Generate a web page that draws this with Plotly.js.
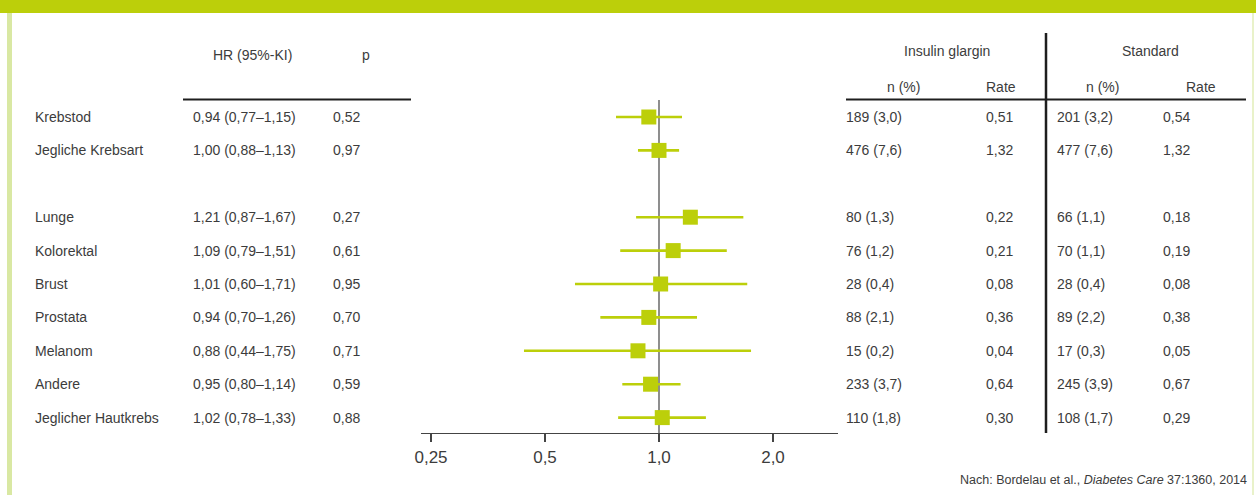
<!DOCTYPE html>
<html>
<head>
<meta charset="utf-8">
<script src="https://cdn.plot.ly/plotly-3.0.1.min.js"></script>
<style>html,body{margin:0;padding:0;background:#fff;}#chart{width:1256px;height:495px;}</style>
</head>
<body>
<div id="chart"></div>
<script>
// ---- data ----
const labels = ["Krebstod","Jegliche Krebsart","Lunge","Kolorektal","Brust","Prostata","Melanom","Andere","Jeglicher Hautkrebs"];
const hr = [0.94,1.00,1.21,1.09,1.01,0.94,0.88,0.95,1.02];
const ciLow = [0.77,0.88,0.87,0.79,0.60,0.70,0.44,0.80,0.78];
const ciHigh = [1.15,1.13,1.67,1.51,1.71,1.26,1.75,1.14,1.33];
const pValues = ["0,52","0,97","0,27","0,61","0,95","0,70","0,71","0,59","0,88"];
const glarginN = ["189 (3,0)","476 (7,6)","80 (1,3)","76 (1,2)","28 (0,4)","88 (2,1)","15 (0,2)","233 (3,7)","110 (1,8)"];
const glarginRate = ["0,51","1,32","0,22","0,21","0,08","0,36","0,04","0,64","0,30"];
const standardN = ["201 (3,2)","477 (7,6)","66 (1,1)","70 (1,1)","28 (0,4)","89 (2,2)","17 (0,3)","245 (3,9)","108 (1,7)"];
const standardRate = ["0,54","1,32","0,18","0,19","0,08","0,38","0,05","0,67","0,29"];
const tickVals = [0.25,0.5,1,2];
const tickText = ["0,25","0,5","1,0","2,0"];

// ---- layout helpers ----
const W = 1256, H = 495;
const px = x => x / W;
const py = y => 1 - y / H;
const green = "#bccf0a";
const txt = "#3c3c3c";
const FONT = "Liberation Sans, Arial, sans-serif";
const fmt = v => v.toFixed(2).replace(".", ",");
// row positions: blank row after the first two rows
const rowPos = labels.map((_, i) => i + (i >= 2 ? 1 : 0));

const trace = {
  type: "scatter", mode: "markers",
  x: hr, y: rowPos,
  marker: {symbol: "square", size: 15, color: green},
  error_x: {
    type: "data", symmetric: false,
    array: hr.map((v, i) => ciHigh[i] - v),
    arrayminus: hr.map((v, i) => v - ciLow[i]),
    color: green, thickness: 2.6, width: 0
  },
  hoverinfo: "skip", showlegend: false, cliponaxis: false
};

const ann = [];
function add(text, x, y, opts) {
  ann.push(Object.assign({
    text: text, x: x, y: y, xref: "paper", yref: "y", showarrow: false,
    xanchor: "left", yanchor: "middle",
    font: {family: FONT, size: 14, color: txt}
  }, opts || {}));
}
labels.forEach((l, i) => {
  const y = rowPos[i];
  add(l, px(33), y);
  add(fmt(hr[i]) + " (" + fmt(ciLow[i]) + "–" + fmt(ciHigh[i]) + ")", px(191), y);
  add(pValues[i], px(331), y);
  add(glarginN[i], px(844), y);
  add(glarginRate[i], px(984), y);
  add(standardN[i], px(1055), y);
  add(standardRate[i], px(1161), y);
});
// headers (paper coords)
function head(text, x, y, xa) {
  ann.push({text: text, x: px(x), y: py(y), xref: "paper", yref: "paper", showarrow: false,
    xanchor: xa, yanchor: "middle", font: {family: FONT, size: 14, color: txt}});
}
head("HR (95%-KI)", 252, 55, "center");
head("p", 366, 55, "center");
head("Insulin glargin", 947, 51, "center");
head("Standard", 1150, 51, "center");
head("n (%)", 903, 87, "center");
head("Rate", 1018, 87, "right");
head("n (%)", 1102, 87, "center");
head("Rate", 1218, 87, "right");
ann.push({text: "Nach: Bordelau et al., <i>Diabetes Care</i> 37:1360, 2014", x: px(1249), y: py(480),
  xref: "paper", yref: "paper", showarrow: false, xanchor: "right", yanchor: "middle",
  font: {family: FONT, size: 12.5, color: txt}});

const shapes = [
  {type: "rect", xref: "paper", yref: "paper", x0: 0, x1: 1, y0: py(13), y1: 1, fillcolor: green, line: {width: 0}, layer: "below"},
  {type: "rect", xref: "paper", yref: "paper", x0: px(7), x1: px(12), y0: 0, y1: py(13), fillcolor: "#d9e8a3", line: {width: 0}, layer: "below"},
  {type: "line", xref: "paper", yref: "paper", x0: px(1253), x1: px(1253), y0: 0, y1: py(13), line: {color: "#e2eeb8", width: 1.5}},
  {type: "line", xref: "paper", yref: "paper", x0: px(183), x1: px(411), y0: py(99.5), y1: py(99.5), line: {color: "#1e1e1e", width: 2}},
  {type: "line", xref: "paper", yref: "paper", x0: px(846), x1: px(1246), y0: py(99.5), y1: py(99.5), line: {color: "#1e1e1e", width: 2}},
  {type: "line", xref: "paper", yref: "paper", x0: px(1046), x1: px(1046), y0: py(33), y1: py(433), line: {color: "#1e1e1e", width: 2.5}},
  {type: "line", xref: "x", yref: "paper", x0: 1, x1: 1, y0: py(100), y1: py(433), line: {color: "#444", width: 1.2}, layer: "below"}
];

const axisLeftLog = Math.log10(Math.pow(2, (421 - 659) / 114));
const axisRightLog = Math.log10(Math.pow(2, (838 - 659) / 114));

const layout = {
  width: W, height: H,
  margin: {l: 0, r: 0, t: 0, b: 0},
  paper_bgcolor: "#fff", plot_bgcolor: "rgba(0,0,0,0)",
  showlegend: false,
  xaxis: {
    type: "log", domain: [px(421), px(838)], range: [axisLeftLog, axisRightLog],
    tickvals: tickVals, ticktext: tickText,
    showgrid: false, zeroline: false, showline: true, linecolor: "#444", linewidth: 1.2,
    ticks: "outside", ticklen: 8, tickcolor: "#444", tickwidth: 1.2,
    tickfont: {family: FONT, size: 17, color: txt}, anchor: "y", fixedrange: true
  },
  yaxis: {
    domain: [py(433), 1],
    range: [(433 - 117) / 33.4, -117 / 33.4],
    visible: false, showgrid: false, zeroline: false, fixedrange: true
  },
  annotations: ann,
  shapes: shapes
};

Plotly.newPlot("chart", [trace], layout, {staticPlot: true, displayModeBar: false});
</script>
</body>
</html>
